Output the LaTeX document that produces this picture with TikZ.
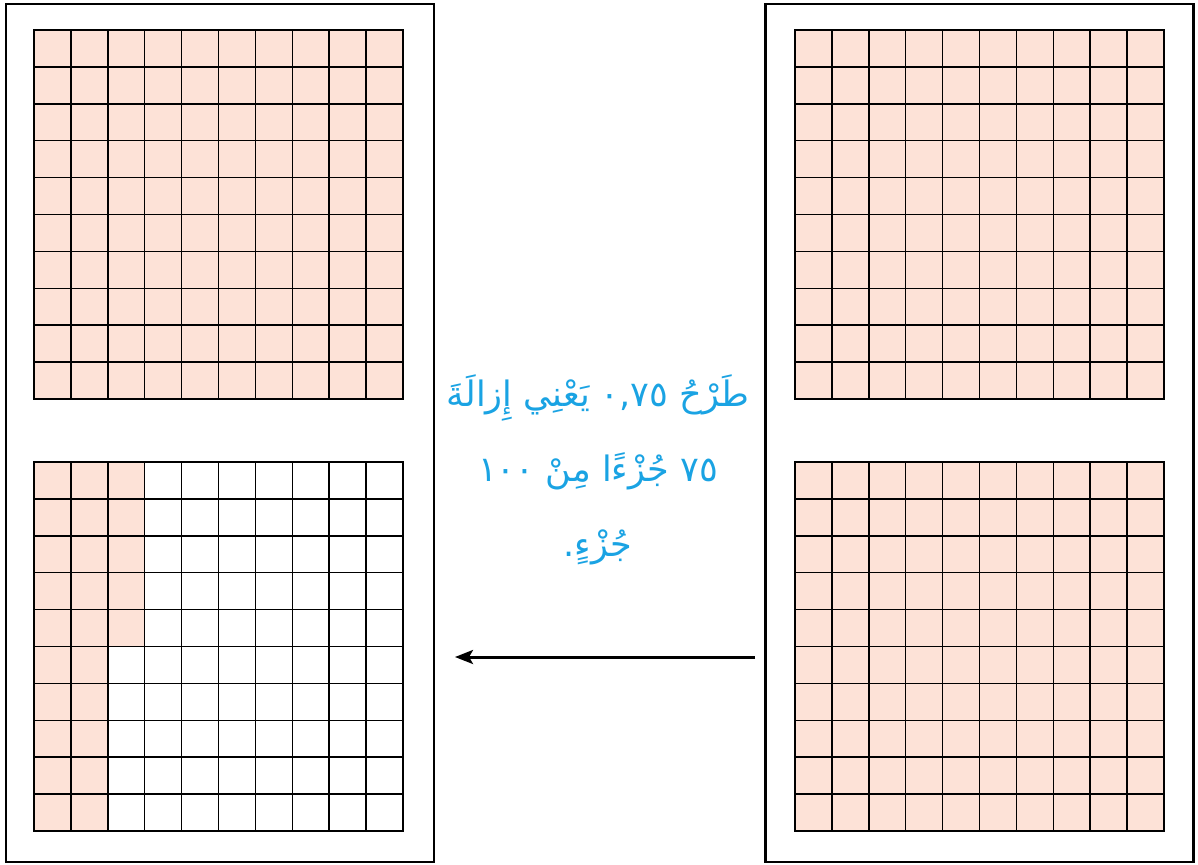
\documentclass[tikz,border=0pt]{standalone}
\usepackage{fontspec}
\usetikzlibrary{arrows.meta}
\TeXXeTstate=1
\newfontfamily\arabicfont[Script=Arabic]{DejaVu Sans}
\definecolor{cellpink}{RGB}{253,226,215}
\definecolor{textblue}{RGB}{26,163,227}
\tikzset{
  panel/.style={draw=black, line width=2.8pt, minimum width=428pt, minimum height=858pt, inner sep=0pt},
  gridline/.style={draw=black, line width=1.5pt},
  gridframe/.style={draw=black, line width=2.8pt},
  arrowline/.style={draw=black, line width=3pt, -{Stealth[length=18pt,width=14pt,inset=4pt]}},
  caption/.style={text=textblue, align=center, font=\arabicfont\fontsize{35}{75}\selectfont}
}
\newcommand{\gridlines}{%
  \foreach \i in {1,...,9} {
    \draw[gridline] (\i*36.9,0) -- (\i*36.9,369);
    \draw[gridline] (0,\i*36.9) -- (369,\i*36.9);
  }
  \draw[gridframe] (0,0) rectangle (369,369);
}
\begin{document}
\begin{tikzpicture}[x=1pt,y=-1pt]
\useasboundingbox (0,0) rectangle (1198,864);
\node[panel] (lp) at (220,433) {};
\node[panel] (rp) at (979.5,433) {};
% left top grid
\begin{scope}[shift={(34,30)}]
  \fill[cellpink] (0,0) rectangle (369,369);
  \gridlines
\end{scope}
% left bottom grid
\begin{scope}[shift={(34,462)}]
  \fill[cellpink] (0,0) rectangle (3*36.9,5*36.9);
  \fill[cellpink] (0,5*36.9) rectangle (2*36.9,369);
  \gridlines
\end{scope}
% right top grid
\begin{scope}[shift={(795,30)}]
  \fill[cellpink] (0,0) rectangle (369,369);
  \gridlines
\end{scope}
% right bottom grid
\begin{scope}[shift={(795,462)}]
  \fill[cellpink] (0,0) rectangle (369,369);
  \gridlines
\end{scope}
\node[caption] (txt) at (598,470) {\beginR طَرْحُ \beginL٠,٧٥\endL{} يَعْنِي إِزالَةَ\endR\\
\beginR\beginL٧٥\endL{} جُزْءًا مِنْ \beginL١٠٠\endL\endR\\
\beginR جُزْءٍ.\endR};
\coordinate (arrS) at (755,657);
\coordinate (arrE) at (455,657);
\draw[arrowline] (arrS) -- (arrE);
\end{tikzpicture}
\end{document}
